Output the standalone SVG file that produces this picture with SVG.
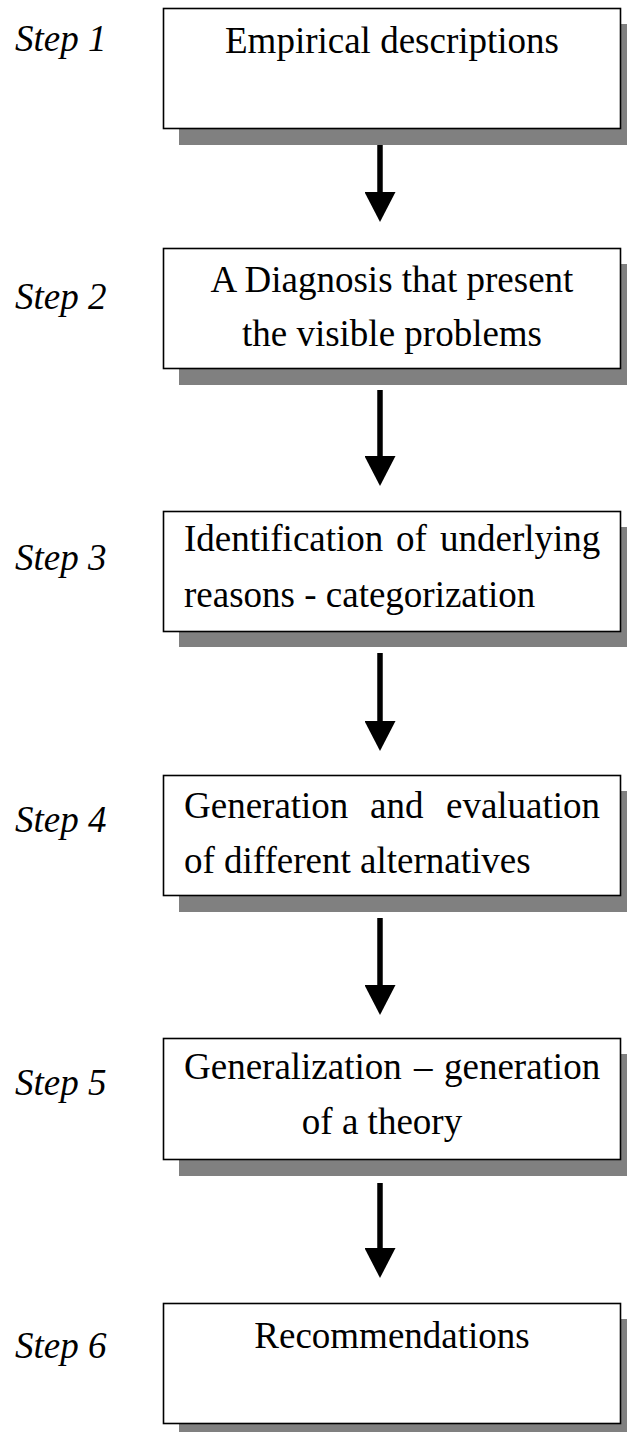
<svg xmlns="http://www.w3.org/2000/svg" width="627" height="1432" viewBox="0 0 627 1432">
<style>
.box{fill:#fff;stroke:#000;stroke-width:1.6}
.shadow{fill:#808080}
.t{font-family:"Liberation Serif","Times New Roman",serif;font-size:37px;fill:#000}
.c{text-anchor:middle}
.step{font-family:"Liberation Serif","Times New Roman",serif;font-size:37px;font-style:italic;fill:#000}
.arrow{stroke:#000;stroke-width:5.5;fill:none;marker-end:url(#ah)}
</style>
<defs>
<marker id="ah" markerUnits="userSpaceOnUse" markerWidth="31" markerHeight="31" viewBox="0 0 30 31" refX="0" refY="15.5" orient="auto">
<path d="M0,0 L30,15.5 L0,31 z" fill="#000"/>
</marker>
</defs>
<rect width="627" height="1432" fill="#fff"/>

<g id="connectors">
<line class="arrow" x1="380" y1="145" x2="380" y2="192"/>
<line class="arrow" x1="380" y1="390" x2="380" y2="456"/>
<line class="arrow" x1="380" y1="653" x2="380" y2="721"/>
<line class="arrow" x1="380" y1="918" x2="380" y2="985"/>
<line class="arrow" x1="380" y1="1183" x2="380" y2="1248"/>
</g>

<g id="step1">
<text class="step" x="15" y="51">Step 1</text>
<rect class="shadow" x="179" y="24" width="448" height="121"/>
<rect class="box" x="163.5" y="8.5" width="457" height="120"/>
<text class="t c" x="392" y="53">Empirical descriptions</text>
</g>

<g id="step2">
<text class="step" x="15" y="309">Step 2</text>
<rect class="shadow" x="179" y="264" width="448" height="121"/>
<rect class="box" x="163.5" y="248.5" width="457" height="120"/>
<text class="t c" x="392" y="292">A Diagnosis that present</text>
<text class="t c" x="392" y="346">the visible problems</text>
</g>

<g id="step3">
<text class="step" x="15" y="570">Step 3</text>
<rect class="shadow" x="179" y="527" width="448" height="120"/>
<rect class="box" x="163.5" y="511.5" width="457" height="120"/>
<text class="t" y="551"><tspan x="184">Identification</tspan><tspan x="396">of</tspan><tspan x="440">underlying</tspan></text>
<text class="t" x="184" y="607">reasons - categorization</text>
</g>

<g id="step4">
<text class="step" x="15" y="832">Step 4</text>
<rect class="shadow" x="179" y="791" width="448" height="121"/>
<rect class="box" x="163.5" y="775.5" width="457" height="120"/>
<text class="t" y="818"><tspan x="184">Generation</tspan><tspan x="370">and</tspan><tspan x="446">evaluation</tspan></text>
<text class="t" x="184" y="873">of different alternatives</text>
</g>

<g id="step5">
<text class="step" x="15" y="1095">Step 5</text>
<rect class="shadow" x="179" y="1054" width="448" height="122"/>
<rect class="box" x="163.5" y="1038.5" width="457" height="121"/>
<text class="t" y="1079"><tspan x="184">Generalization</tspan><tspan x="414">–</tspan><tspan x="444">generation</tspan></text>
<text class="t c" x="382" y="1134">of a theory</text>
</g>

<g id="step6">
<text class="step" x="15" y="1358">Step 6</text>
<rect class="shadow" x="179" y="1319" width="448" height="121"/>
<rect class="box" x="163.5" y="1303.5" width="457" height="120"/>
<text class="t c" x="392" y="1348">Recommendations</text>
</g>
</svg>
